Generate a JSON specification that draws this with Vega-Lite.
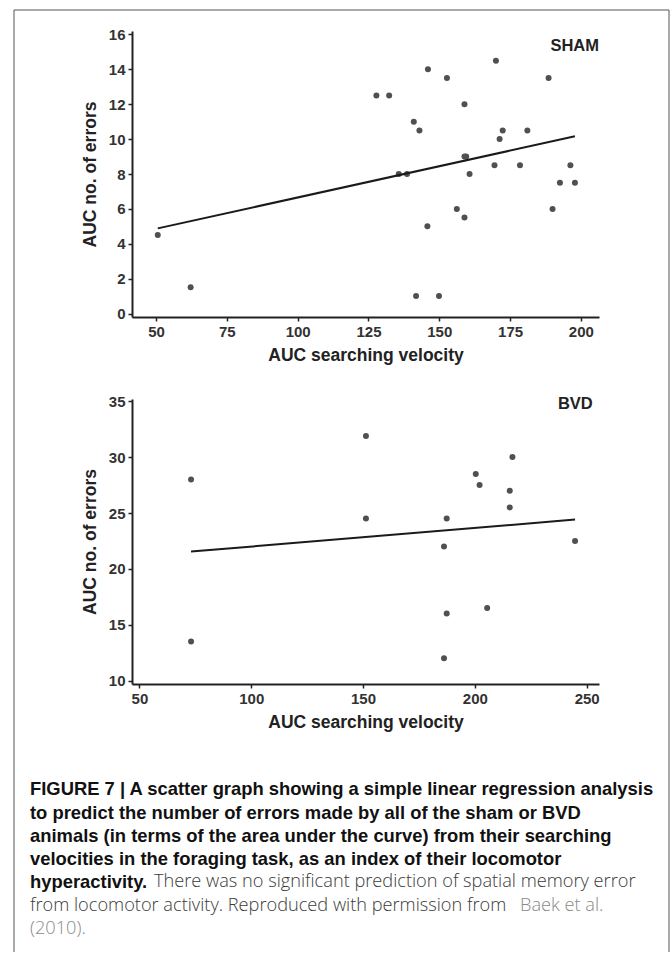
{
  "$schema": "https://vega.github.io/schema/vega-lite/v6.json",
  "padding": {"left": 13, "top": 9, "right": 0, "bottom": 0},
  "background": "white",
  "bounds": "flush",
  "spacing": 82,
  "config": {
    "view": {"stroke": null},
    "font": "Liberation Sans",
    "axis": {
      "grid": false,
      "domainColor": "#222",
      "domainWidth": 2,
      "tickColor": "#222",
      "tickWidth": 1.5,
      "tickSize": 4,
      "labelFont": "Liberation Sans",
      "labelFontSize": 15,
      "labelFontWeight": "bold",
      "labelColor": "#333",
      "labelPadding": 3,
      "labelOverlap": false,
      "titleFont": "Liberation Sans",
      "titleFontSize": 17.5,
      "titleFontWeight": "bold",
      "titleColor": "#222"
    }
  },
  "datasets": {
    "sham": [
      {"velocity": 50.6, "errors": 4.5}, {"velocity": 62.2, "errors": 1.5},
      {"velocity": 127.8, "errors": 12.5}, {"velocity": 132.3, "errors": 12.5},
      {"velocity": 146.0, "errors": 14.0}, {"velocity": 152.7, "errors": 13.5},
      {"velocity": 170.0, "errors": 14.5}, {"velocity": 188.6, "errors": 13.5},
      {"velocity": 158.9, "errors": 12.0}, {"velocity": 141.0, "errors": 11.0},
      {"velocity": 143.0, "errors": 10.5}, {"velocity": 172.4, "errors": 10.5},
      {"velocity": 181.1, "errors": 10.5}, {"velocity": 171.3, "errors": 10.0},
      {"velocity": 158.9, "errors": 9.0}, {"velocity": 159.5, "errors": 9.0},
      {"velocity": 135.7, "errors": 8.0}, {"velocity": 138.6, "errors": 8.0},
      {"velocity": 160.7, "errors": 8.0}, {"velocity": 169.5, "errors": 8.5},
      {"velocity": 178.5, "errors": 8.5}, {"velocity": 196.3, "errors": 8.5},
      {"velocity": 192.6, "errors": 7.5}, {"velocity": 197.9, "errors": 7.5},
      {"velocity": 156.2, "errors": 6.0}, {"velocity": 190.0, "errors": 6.0},
      {"velocity": 158.9, "errors": 5.5}, {"velocity": 145.8, "errors": 5.0},
      {"velocity": 141.8, "errors": 1.0}, {"velocity": 149.9, "errors": 1.0}
    ],
    "bvd": [
      {"velocity": 73.1, "errors": 28.0}, {"velocity": 73.1, "errors": 13.5},
      {"velocity": 151.3, "errors": 31.9}, {"velocity": 151.3, "errors": 24.5},
      {"velocity": 187.4, "errors": 24.5}, {"velocity": 186.2, "errors": 22.0},
      {"velocity": 187.4, "errors": 16.0}, {"velocity": 205.5, "errors": 16.5},
      {"velocity": 200.4, "errors": 28.5}, {"velocity": 202.1, "errors": 27.5},
      {"velocity": 216.8, "errors": 30.0}, {"velocity": 215.6, "errors": 27.0},
      {"velocity": 215.6, "errors": 25.5}, {"velocity": 244.8, "errors": 22.5},
      {"velocity": 186.2, "errors": 12.0}
    ],
    "captionBold": [
      {"line": 1, "text": "FIGURE 7 | A scatter graph showing a simple linear regression analysis"},
      {"line": 2, "text": "to predict the number of errors made by all of the sham or BVD"},
      {"line": 3, "text": "animals (in terms of the area under the curve) from their searching"},
      {"line": 4, "text": "velocities in the foraging task, as an index of their locomotor"},
      {"line": 5, "text": "hyperactivity."}
    ]
  },
  "vconcat": [
    {
      "width": 467,
      "height": 286,
      "layer": [
        {
          "data": {"name": "sham"},
          "mark": {"type": "circle", "size": 36, "color": "#505050", "opacity": 1},
          "encoding": {
            "x": {"field": "velocity", "type": "quantitative",
                  "scale": {"domain": [41.5, 206.4], "nice": false, "zero": false},
                  "axis": {"values": [50, 75, 100, 125, 150, 175, 200], "title": "AUC searching velocity", "titlePadding": 7, "labelOverlap": false}},
            "y": {"field": "errors", "type": "quantitative",
                  "scale": {"domain": [-0.2, 16.2], "nice": false, "zero": false},
                  "axis": {"values": [0, 2, 4, 6, 8, 10, 12, 14, 16], "title": "AUC no. of errors", "titlePadding": 9, "labelOverlap": false, "tickCount": 9}}
          }
        },
        {
          "data": {"name": "sham"},
          "transform": [{"regression": "errors", "on": "velocity"}],
          "mark": {"type": "line", "color": "#1a1a1a", "strokeWidth": 2},
          "encoding": {
            "x": {"field": "velocity", "type": "quantitative",
                  "axis": {"values": [50, 75, 100, 125, 150, 175, 200], "title": "AUC searching velocity", "titlePadding": 7, "labelOverlap": false}},
            "y": {"field": "errors", "type": "quantitative",
                  "axis": {"values": [0, 2, 4, 6, 8, 10, 12, 14, 16], "title": "AUC no. of errors", "titlePadding": 9, "labelOverlap": false, "tickCount": 9}}
          }
        },
        {
          "data": {"values": [{"group": "SHAM"}]},
          "mark": {"type": "text", "align": "right", "baseline": "middle", "fontSize": 16.5, "fontWeight": "bold", "color": "#222"},
          "encoding": {
            "x": {"datum": 206.4},
            "y": {"datum": 15.34},
            "text": {"field": "group"}
          }
        }
      ]
    },
    {
      "width": 467,
      "height": 285,
      "layer": [
        {
          "data": {"name": "bvd"},
          "mark": {"type": "circle", "size": 36, "color": "#505050", "opacity": 1},
          "encoding": {
            "x": {"field": "velocity", "type": "quantitative",
                  "scale": {"domain": [46.7, 255.5], "nice": false, "zero": false},
                  "axis": {"values": [50, 100, 150, 200, 250], "title": "AUC searching velocity", "titlePadding": 7, "labelOverlap": false}},
            "y": {"field": "errors", "type": "quantitative",
                  "scale": {"domain": [9.7, 35.2], "nice": false, "zero": false},
                  "axis": {"values": [10, 15, 20, 25, 30, 35], "title": "AUC no. of errors", "titlePadding": 9, "labelOverlap": false}}
          }
        },
        {
          "data": {"name": "bvd"},
          "transform": [{"regression": "errors", "on": "velocity"}],
          "mark": {"type": "line", "color": "#1a1a1a", "strokeWidth": 2},
          "encoding": {
            "x": {"field": "velocity", "type": "quantitative",
                  "axis": {"values": [50, 100, 150, 200, 250], "title": "AUC searching velocity", "titlePadding": 7, "labelOverlap": false}},
            "y": {"field": "errors", "type": "quantitative",
                  "axis": {"values": [10, 15, 20, 25, 30, 35], "title": "AUC no. of errors", "titlePadding": 9, "labelOverlap": false}}
          }
        },
        {
          "data": {"values": [{"group": "BVD"}]},
          "mark": {"type": "text", "align": "right", "baseline": "middle", "fontSize": 16.5, "fontWeight": "bold", "color": "#222"},
          "encoding": {
            "x": {"datum": 252.7},
            "y": {"datum": 34.75},
            "text": {"field": "group"}
          }
        }
      ]
    },
    {
      "width": 467,
      "height": 186,
      "layer": [
        {
          "data": {"name": "captionBold"},
          "mark": {"type": "text", "align": "left", "baseline": "middle", "font": "Liberation Sans", "fontSize": 18.4, "fontWeight": "bold", "color": "#111", "x": -102},
          "encoding": {
            "y": {"field": "line", "type": "quantitative", "scale": {"domain": [0.08, 7.52], "reverse": true}, "axis": null},
            "text": {"field": "text"}
          }
        },
        {
          "data": {"values": [{"line": 5, "text": "There was no significant prediction of spatial memory error"}]},
          "mark": {"type": "text", "align": "left", "baseline": "middle", "font": "Open Sans", "fontSize": 18.2, "fontWeight": 300, "color": "#3a3a3a", "x": 22},
          "encoding": {
            "y": {"field": "line", "type": "quantitative", "axis": null},
            "text": {"field": "text"}
          }
        },
        {
          "data": {"values": [{"line": 6, "text": "from locomotor activity. Reproduced with permission from"}]},
          "mark": {"type": "text", "align": "left", "baseline": "middle", "font": "Open Sans", "fontSize": 18.2, "fontWeight": 300, "color": "#3a3a3a", "x": -102},
          "encoding": {
            "y": {"field": "line", "type": "quantitative", "axis": null},
            "text": {"field": "text"}
          }
        },
        {
          "data": {"values": [{"line": 6, "text": "Baek et al."}]},
          "mark": {"type": "text", "align": "left", "baseline": "middle", "font": "Open Sans", "fontSize": 18.2, "fontWeight": 300, "color": "#8a8a8a", "x": 388},
          "encoding": {
            "y": {"field": "line", "type": "quantitative", "axis": null},
            "text": {"field": "text"}
          }
        },
        {
          "data": {"values": [{"line": 7, "text": "(2010)."}]},
          "mark": {"type": "text", "align": "left", "baseline": "middle", "font": "Open Sans", "fontSize": 18.2, "fontWeight": 300, "color": "#8a8a8a", "x": -102},
          "encoding": {
            "y": {"field": "line", "type": "quantitative", "axis": null},
            "text": {"field": "text"}
          }
        },
        {
          "data": {"values": [{}]},
          "mark": {"type": "rule", "color": "#555", "strokeWidth": 1},
          "encoding": {"x": {"value": -118}, "x2": {"value": 537}, "y": {"value": -756}, "y2": {"value": -756}}
        },
        {
          "data": {"values": [{}]},
          "mark": {"type": "rule", "color": "#555", "strokeWidth": 1},
          "encoding": {"x": {"value": -118}, "x2": {"value": -118}, "y": {"value": -756}, "y2": {"value": 186}}
        },
        {
          "data": {"values": [{}]},
          "mark": {"type": "rule", "color": "#555", "strokeWidth": 1},
          "encoding": {"x": {"value": 537}, "x2": {"value": 537}, "y": {"value": -756}, "y2": {"value": 186}}
        }
      ]
    }
  ]
}
